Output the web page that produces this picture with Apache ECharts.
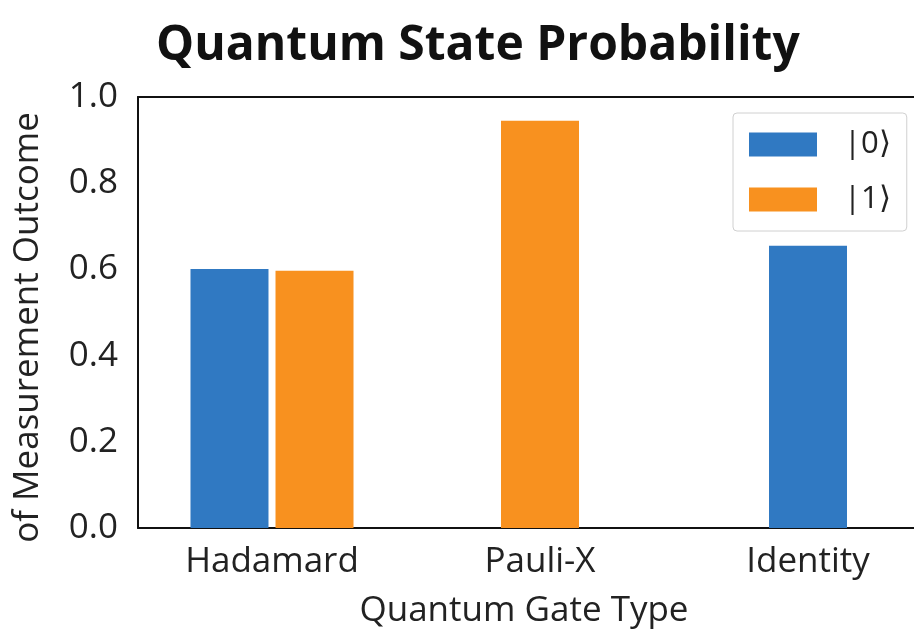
<!DOCTYPE html>
<html>
<head>
<meta charset="utf-8">
<script src="https://cdn.jsdelivr.net/npm/echarts@6/dist/echarts.min.js"></script>
<style>html,body{margin:0;padding:0;background:#fff;overflow:hidden;}#c{width:914px;height:638px;}</style>
</head>
<body>
<div id="c"></div>
<script>
const categories = ['Hadamard', 'Pauli-X', 'Identity'];
const state0 = [0.601, 0, 0.655];
const state1 = [0.597, 0.945, 0];
const seriesNames = ['|0\u27E9', '|1\u27E9'];
const yTicks = [0, 0.2, 0.4, 0.6, 0.8, 1.0];

const colors = ['#3079c2', '#f8911f'];
const FONT = 'Open Sans';

const both = categories.map((c, i) => state0[i] > 0 && state1[i] > 0);
const grouped = [state0, state1].map(arr => arr.map((v, i) => both[i] ? v : '-'));
const single = [state0, state1].map(arr => arr.map((v, i) => (!both[i] && v > 0) ? v : '-'));

const chart = echarts.init(document.getElementById('c'), null, {renderer: 'canvas'});
const series = [];
[0, 1].forEach(k => {
  series.push({
    name: seriesNames[k], type: 'bar', xAxisIndex: 0, yAxisIndex: 0,
    data: grouped[k], barWidth: 78, barGap: '9%',
    itemStyle: {color: colors[k]}
  });
});
[0, 1].forEach(k => {
  series.push({
    name: seriesNames[k], type: 'bar', xAxisIndex: 1, yAxisIndex: 0,
    data: single[k], barWidth: 78, stack: 'single',
    itemStyle: {color: colors[k]}
  });
});

chart.setOption({
  animation: false,
  backgroundColor: '#ffffff',
  textStyle: {fontFamily: FONT},
  color: colors,
  title: {
    text: 'Quantum State Probability',
    left: 151, top: 17,
    textStyle: {fontFamily: FONT, fontWeight: 'bold', fontSize: 48, color: '#111'}
  },
  legend: {
    data: seriesNames,
    orient: 'vertical',
    left: 733, top: 113,
    padding: [16, 16, 16, 16],
    itemWidth: 68, itemHeight: 24, itemGap: 24,
    backgroundColor: '#fff',
    borderColor: '#d0d0d0', borderWidth: 1, borderRadius: 4,
    icon: 'rect',
    textStyle: {fontFamily: FONT, fontSize: 31, color: '#222', lineHeight: 24, padding: [0, 0, 0, 22]}
  },
  grid: {
    left: 138, top: 97, right: -28, bottom: 110,
    outerBoundsMode: 'none', containLabel: false, show: false
  },
  xAxis: [{
    type: 'category', data: categories, gridIndex: 0, position: 'bottom',
    axisLine: {show: true, lineStyle: {color: '#111', width: 2}},
    axisTick: {show: false},
    axisLabel: {fontFamily: FONT, fontSize: 35, color: '#222', margin: 17},
    name: 'Quantum Gate Type', nameLocation: 'middle', nameGap: 66,
    nameTextStyle: {fontFamily: FONT, fontSize: 35, color: '#222', padding: [0, 32, 0, 0]}
  }, {
    type: 'category', data: categories, gridIndex: 0, position: 'top',
    axisLine: {show: true, onZero: false, lineStyle: {color: '#111', width: 2}},
    axisTick: {show: false}, axisLabel: {show: false}, splitLine: {show: false}
  }],
  yAxis: {
    type: 'value', min: 0, max: 1, interval: 0.2,
    axisLine: {show: true, lineStyle: {color: '#111', width: 2}},
    axisTick: {show: false},
    splitLine: {show: false},
    axisLabel: {fontFamily: FONT, fontSize: 35, color: '#222', margin: 20,
      formatter: v => v.toFixed(1)},
    name: 'of Measurement Outcome', nameLocation: 'middle', nameGap: 92, nameRotate: 90,
    nameTextStyle: {fontFamily: FONT, fontSize: 35, color: '#222', padding: [0, 30, 0, 0]}
  },
  series: series
});
</script>
</body>
</html>
